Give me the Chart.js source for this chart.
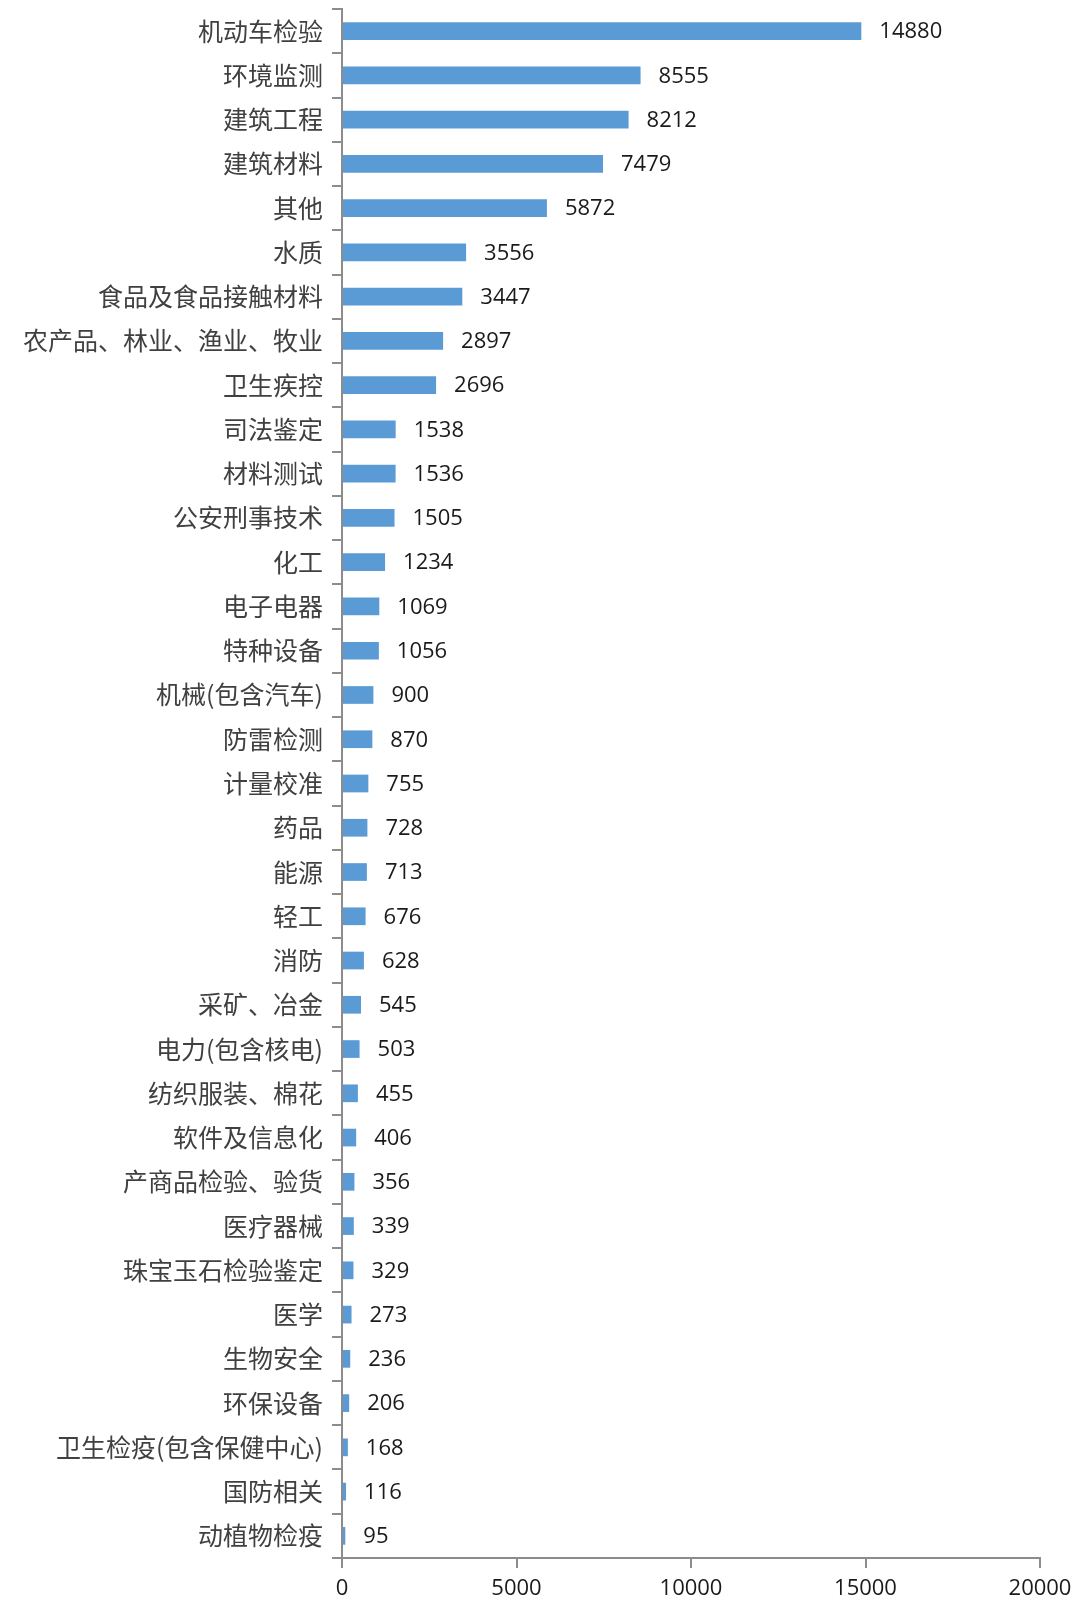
<!DOCTYPE html>
<html>
<head>
<meta charset="utf-8">
<script src="https://cdn.jsdelivr.net/npm/chart.js@4"></script>
<style>
  html, body { margin: 0; padding: 0; background: #fff; }
  canvas { display: block; }
</style>
</head>
<body>
<canvas id="c" width="1080" height="1623"></canvas>
<script>
const categories = [
  "机动车检验", "环境监测", "建筑工程", "建筑材料", "其他", "水质",
  "食品及食品接触材料", "农产品、林业、渔业、牧业", "卫生疾控", "司法鉴定",
  "材料测试", "公安刑事技术", "化工", "电子电器", "特种设备", "机械(包含汽车)",
  "防雷检测", "计量校准", "药品", "能源", "轻工", "消防", "采矿、冶金",
  "电力(包含核电)", "纺织服装、棉花", "软件及信息化", "产商品检验、验货",
  "医疗器械", "珠宝玉石检验鉴定", "医学", "生物安全", "环保设备",
  "卫生检疫(包含保健中心)", "国防相关", "动植物检疫"
];
const values = [
  14880, 8555, 8212, 7479, 5872, 3556, 3447, 2897, 2696, 1538,
  1536, 1505, 1234, 1069, 1056, 900, 870, 755, 728, 713,
  676, 628, 545, 503, 455, 406, 356, 339, 329, 273,
  236, 206, 168, 116, 95
];
const xTicks = [0, 5000, 10000, 15000, 20000];

const valueLabels = {
  id: 'valueLabels',
  afterDatasetsDraw(chart) {
    const ctx = chart.ctx;
    const meta = chart.getDatasetMeta(0);
    ctx.save();
    ctx.font = '22px "Open Sans"';
    ctx.fillStyle = '#1a1a1a';
    ctx.textAlign = 'left';
    ctx.textBaseline = 'middle';
    meta.data.forEach((bar, i) => {
      ctx.fillText(String(values[i]), bar.x + 18, bar.y + 1);
    });
    ctx.restore();
  }
};

new Chart(document.getElementById('c'), {
  type: 'bar',
  data: {
    labels: categories,
    datasets: [{
      data: values,
      backgroundColor: '#5B9BD5',
      borderWidth: 0,
      barPercentage: 0.4,
      categoryPercentage: 1.0
    }]
  },
  plugins: [valueLabels],
  options: {
    indexAxis: 'y',
    responsive: false,
    animation: false,
    devicePixelRatio: 1,
    layout: { padding: { top: 9, right: 40, left: 0, bottom: 0 } },
    plugins: {
      legend: { display: false },
      tooltip: { enabled: false }
    },
    scales: {
      x: {
        min: xTicks[0],
        max: xTicks[xTicks.length - 1],
        afterBuildTicks(scale) {
          scale.ticks = xTicks.map(v => ({ value: v }));
        },
        afterFit(scale) { scale.height = 65; },
        grid: {
          drawOnChartArea: false,
          drawTicks: true,
          tickLength: 10,
          color: '#8c8c8c',
          lineWidth: 2
        },
        border: { color: '#8c8c8c', width: 2 },
        ticks: {
          callback: v => String(v),
          font: { family: '"Open Sans"', size: 22 },
          color: '#1a1a1a',
          padding: 8,
          maxRotation: 0
        }
      },
      y: {
        afterFit(scale) {
          scale.width = 342;
          scale.paddingTop = 0;
          scale.paddingBottom = 0;
        },
        grid: {
          offset: true,
          drawOnChartArea: false,
          drawTicks: true,
          tickLength: 10,
          color: '#8c8c8c',
          lineWidth: 2
        },
        border: { color: '#8c8c8c', width: 2 },
        ticks: {
          font: { family: '"Noto Sans CJK SC"', size: 25 },
          color: '#404040',
          padding: 9,
          autoSkip: false
        }
      }
    }
  }
});
</script>
</body>
</html>
